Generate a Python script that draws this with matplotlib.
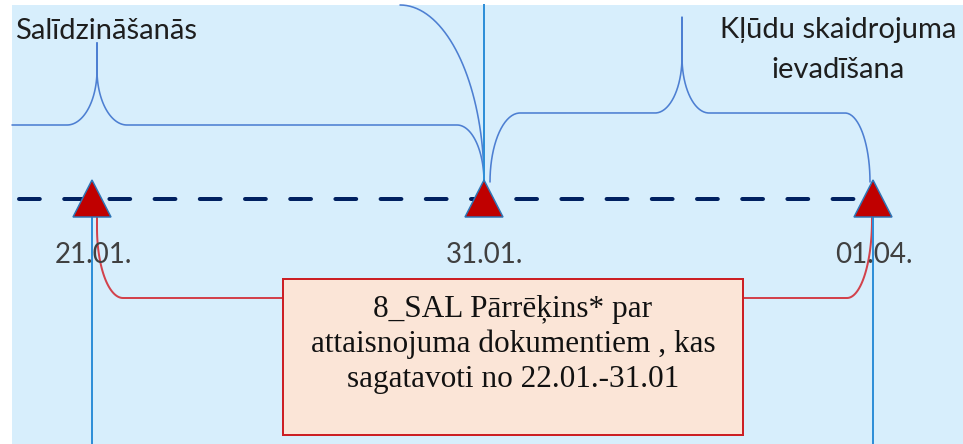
import numpy as np
import matplotlib
matplotlib.use("Agg")
import matplotlib.pyplot as plt
from matplotlib.patches import Rectangle, Polygon

# canvas in pixels (y grows downwards)
W, H = 963, 444

# timeline milestones
milestone_x = [92, 484, 873]
milestone_labels = ["21.01.", "31.01.", "01.04."]

# phase labels above the timeline
phase_texts = ["Salīdzināšanās", "Kļūdu skaidrojuma", "ievadīšana"]
phase_text_x = [15, 838, 838]
phase_text_y = [39, 38, 78]
phase_text_ha = ["left", "center", "center"]

box_lines = ["8_SAL Pārrēķins* par",
             "attaisnojuma dokumentiem , kas",
             "sagatavoti no 22.01.-31.01"]

BG = "#d7eefc"
BRACE = "#4d7fd2"
VLINE = "#2f8fd8"
RED = "#d2424c"
NAVY = "#002060"

PX = 72 / 100.0  # points per pixel at dpi 100


def arc(cx, cy, rx, ry, sx, sy, t0, t1, n=40):
    # quarter ellipse, sx/sy pick the direction
    t = np.linspace(np.radians(t0), np.radians(t1), n)
    return cx + sx * rx * np.sin(t), cy + sy * ry * np.cos(t)


fig = plt.figure(figsize=(W / 100, H / 100), dpi=100)
ax = fig.add_axes([0, 0, 1, 1])
ax.set_xlim(0, W)
ax.set_ylim(H, 0)
ax.axis("off")

ax.add_patch(Rectangle((12, 5), W - 12, H - 5, facecolor=BG, edgecolor="none", zorder=0))


def brace_line(xs, ys, **kw):
    ax.plot(xs, ys, color=BRACE, lw=1.6 * PX, solid_capstyle="round", zorder=2, **kw)


# big arc coming in from the top towards 31.01.
x, y = arc(400, 182, 84, 177, 1, -1, 0, 90)
brace_line(x, y)

# brace 1 (Salīdzināšanās), ends at 31.01.
hy, cx = 125, 97
pts_x, pts_y = [12], [hy]
x, y = arc(cx - 30, hy - 55, 30, 55, 1, 1, 0, 90)
pts_x += list(x); pts_y += list(y)
pts_x += [cx, cx]; pts_y += [43, hy - 55]
x, y = arc(cx + 30, hy - 55, 30, 55, -1, 1, 90, 0)
pts_x += list(x); pts_y += list(y)
x, y = arc(milestone_x[1] - 27, 182, 27, 57, 1, -1, 0, 90)
pts_x += list(x); pts_y += list(y)
brace_line(pts_x, pts_y)

# brace 2 (Kļūdu skaidrojuma ievadīšana), 31.01. -> 01.04.
hy, cx = 113, 682
t = np.radians(np.linspace(0, 90, 40))
pts_x = list(520 - 30 * np.cos(t)); pts_y = list(182 - 69 * np.sin(t))
x, y = arc(cx - 27, hy - 56, 27, 56, 1, 1, 0, 90)
pts_x += list(x); pts_y += list(y)
pts_x += [cx, cx]; pts_y += [17, hy - 56]
x, y = arc(cx + 27, hy - 56, 27, 56, -1, 1, 90, 0)
pts_x += list(x); pts_y += list(y)
x, y = arc(milestone_x[2] - 28, 182, 25, 69, 1, -1, 0, 90)
pts_x += list(x); pts_y += list(y)
brace_line(pts_x, pts_y)

# vertical guide lines
ax.plot([milestone_x[0]] * 2, [217, H], color=VLINE, lw=2 * PX, zorder=3)
ax.plot([milestone_x[1]] * 2, [5, 181], color=VLINE, lw=2 * PX, zorder=3)
ax.plot([milestone_x[2]] * 2, [217, H], color=VLINE, lw=2 * PX, zorder=3)

# dashed timeline
ax.plot([19, 868], [199, 199], color=NAVY, lw=4 * PX, dashes=(5.2, 6.1),
        dash_capstyle="round", zorder=4)

# milestone triangles and labels
for mx, lab in zip(milestone_x, milestone_labels):
    ax.add_patch(Polygon([[mx, 180], [mx - 19, 217], [mx + 19, 217]], closed=True,
                         facecolor="#c00000", edgecolor="#2e75b6", lw=1.5 * PX, zorder=5))
    ax.text(mx + 1, 263, lab, ha="center", va="baseline", fontsize=20,
            family=["Lato", "DejaVu Sans"], color="#404040", zorder=6)

# phase labels
for txt, tx, ty, ha in zip(phase_texts, phase_text_x, phase_text_y, phase_text_ha):
    ax.text(tx, ty, txt, ha=ha, va="baseline", fontsize=21,
            family=["Lato", "DejaVu Sans"], color="#1e1e1e", zorder=6)

# red connector from 21.01. to 01.04. through the box
box_l, box_r, box_t, box_b = 283, 743, 279, 435
ry = 298
t = np.radians(np.linspace(0, 90, 40))
lx = [97, 97] + list(123 - 26 * np.cos(t)) + [box_l]
ly = [217, 228] + list(228 + 70 * np.sin(t)) + [ry]
ax.plot(lx, ly, color=RED, lw=2 * PX, zorder=2)
rx = [box_r] + list(847 + 25 * np.sin(t)) + [872]
rys = [ry] + list(220 + 78 * np.cos(t)) + [217]
ax.plot(rx, rys, color=RED, lw=2 * PX, zorder=2)

ax.add_patch(Rectangle((box_l, box_t), box_r - box_l, box_b - box_t,
                       facecolor="#fbe5d7", edgecolor="#cc1f24", lw=2 * PX, zorder=6))
for i, line in enumerate(box_lines):
    ax.text((box_l + box_r) / 2, 317 + 35 * i, line, ha="center", va="baseline",
            fontsize=22.5, family=["Liberation Serif", "DejaVu Serif"], color="#111111",
            zorder=7)

fig.savefig("out.png", dpi=100, facecolor="white")
